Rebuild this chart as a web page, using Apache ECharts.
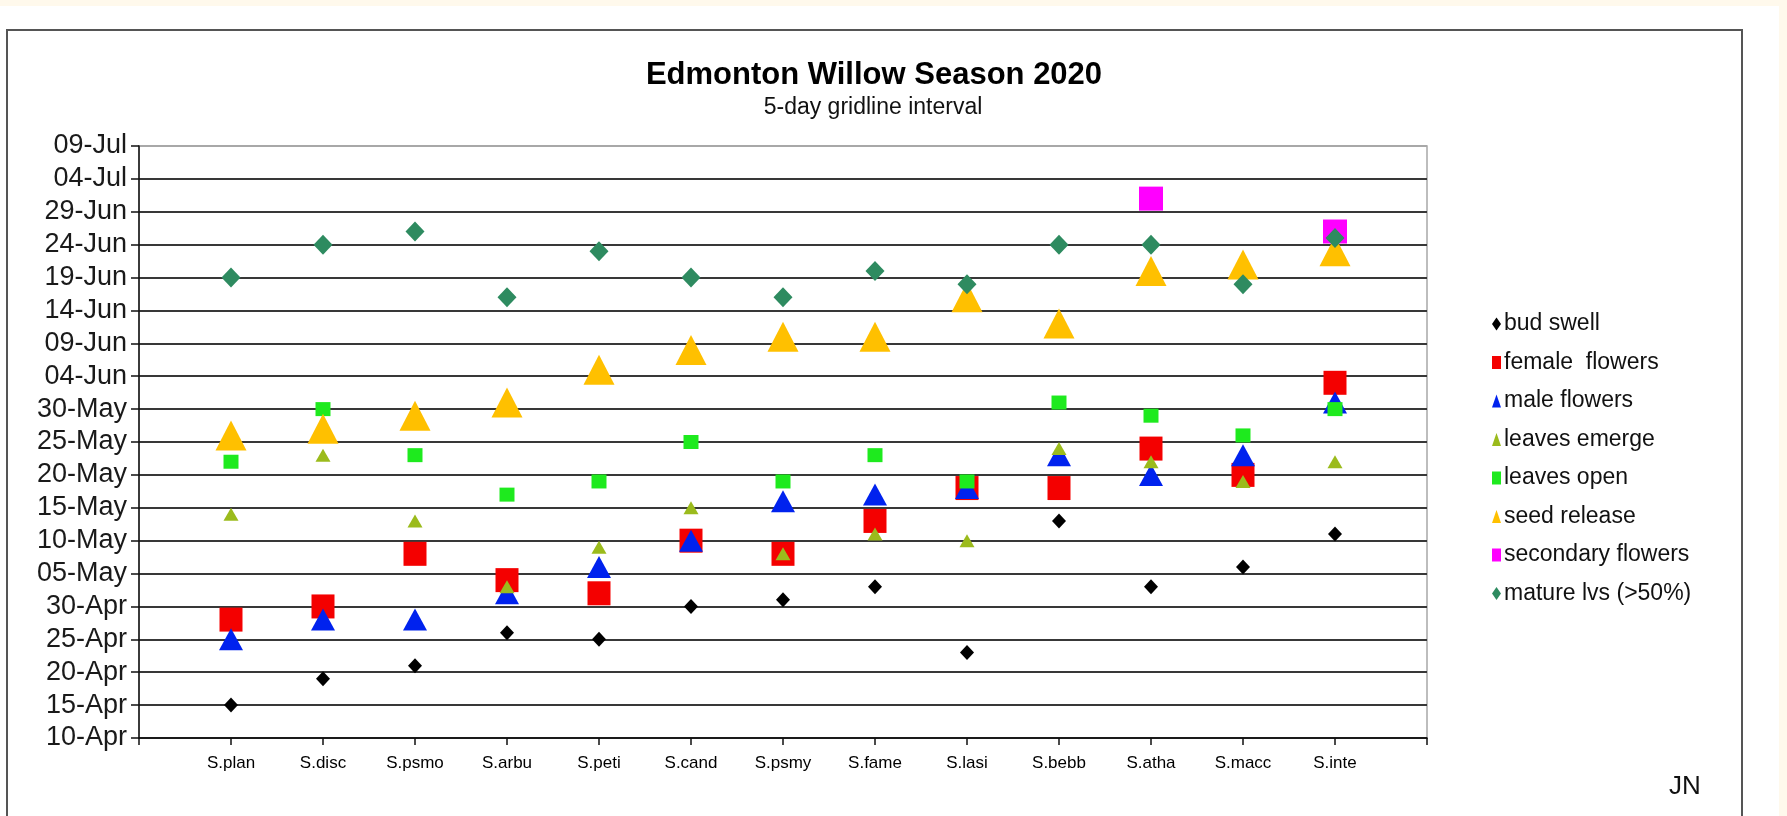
<!DOCTYPE html>
<html>
<head>
<meta charset="utf-8">
<script src="https://cdn.jsdelivr.net/npm/echarts@6/dist/echarts.min.js"></script>
<style>
  html, body { margin: 0; padding: 0; width: 1787px; height: 816px; overflow: hidden; background: #FFF9EC; }
  #white { position: absolute; left: 0; top: 6px; width: 1779px; height: 810px; background: #ffffff; }
  #frame { position: absolute; left: 6px; top: 29px; width: 1737px; height: 800px; border: 2px solid #555; box-sizing: border-box; }
  #chart { position: absolute; left: 0; top: 0; width: 1787px; height: 816px; }
</style>
</head>
<body>
<div id="white"></div>
<div id="frame"></div>
<div id="chart"></div>
<script>
// ---- data (dates, year 2020) ----
const categories = ['S.plan','S.disc','S.psmo','S.arbu','S.peti','S.cand','S.psmy','S.fame','S.lasi','S.bebb','S.atha','S.macc','S.inte'];
const yTickLabels = ['10-Apr','15-Apr','20-Apr','25-Apr','30-Apr','05-May','10-May','15-May','20-May','25-May','30-May','04-Jun','09-Jun','14-Jun','19-Jun','24-Jun','29-Jun','04-Jul','09-Jul'];
const seriesNames = ['bud swell','female  flowers','male flowers','leaves emerge','leaves open','seed release','secondary flowers','mature lvs (>50%)'];

const budSwell        = ['04-15','04-19','04-21','04-26','04-25','04-30','05-01','05-03','04-23','05-13','05-03','05-06','05-11'];
const femaleFlowers   = ['04-28','04-30','05-08','05-04','05-02','05-10','05-08','05-13','05-18','05-18','05-24','05-20','06-03'];
const maleFlowers     = ['04-25','04-28','04-28','05-02','05-06','05-10','05-16','05-17','05-18','05-23','05-20','05-23','05-31'];
const leavesEmerge    = ['05-14','05-23','05-13','05-03','05-09','05-15','05-08','05-11','05-10','05-24','05-22','05-19','05-22'];
const leavesOpen      = ['05-22','05-30','05-23','05-17','05-19','05-25','05-19','05-23','05-19','05-31','05-29','05-26','05-30'];
const seedRelease     = ['05-26','05-27','05-29','05-31','06-05','06-08','06-10','06-10','06-16','06-12','06-20','06-21','06-23'];
const secondaryFlowers= [null,null,null,null,null,null,null,null,null,null,'07-01',null,'06-26'];
const matureLvs       = ['06-19','06-24','06-26','06-16','06-23','06-19','06-16','06-20','06-18','06-24','06-24','06-18','06-25'];

// ---- helpers ----
const BASE = Date.UTC(2020, 3, 10); // 10-Apr-2020 = 0
function dayOffset(s) {
  const [m, d] = s.split('-').map(Number);
  return (Date.UTC(2020, m - 1, d) - BASE) / 86400000;
}
function toPoints(arr) {
  const out = [];
  arr.forEach((s, i) => { if (s) out.push([i + 1, dayOffset(s)]); });
  return out;
}

const styles = [
  { data: budSwell,         symbol: 'diamond',  size: [14, 15], color: '#000000' },
  { data: femaleFlowers,    symbol: 'rect',     size: [23, 24], color: '#F40000' },
  { data: maleFlowers,      symbol: 'triangle', size: [24, 22], color: '#0022EE' },
  { data: leavesEmerge,     symbol: 'triangle', size: [15, 13], color: '#9BBB1C' },
  { data: leavesOpen,       symbol: 'rect',     size: [15, 14], color: '#1EEA1E' },
  { data: seedRelease,      symbol: 'triangle', size: [31, 30], color: '#FFC000' },
  { data: secondaryFlowers, symbol: 'rect',     size: [24, 24], color: '#FF00FF' },
  { data: matureLvs,        symbol: 'diamond',  size: [19, 20], color: '#2E8B60' }
];

const series = styles.map((s, k) => ({
  name: seriesNames[k],
  type: 'scatter',
  symbol: s.symbol,
  symbolSize: s.size,
  itemStyle: { color: s.color, opacity: 1 },
  data: toPoints(s.data)
}));

const FONT = "'Liberation Sans', Arial, sans-serif";
const splitColors = yTickLabels.map((t, i) => i === yTickLabels.length - 1 ? '#a8a8a8' : '#383838');

const chart = echarts.init(document.getElementById('chart'), null, { renderer: 'canvas' });
chart.setOption({
  animation: false,
  backgroundColor: 'transparent',
  grid: {
    left: 139, top: 146, width: 1288, height: 592,
    show: true, backgroundColor: '#ffffff', borderColor: '#a8a8a8', borderWidth: 1.5
  },
  xAxis: {
    type: 'value', min: 0, max: categories.length + 1, interval: 1,
    axisLine: { show: true, lineStyle: { color: '#111', width: 1.5 } },
    axisTick: { show: true, length: 7, lineStyle: { color: '#111', width: 1.5 } },
    splitLine: { show: false },
    axisLabel: {
      margin: 17, fontSize: 17, color: '#000', fontFamily: FONT,
      formatter: v => categories[v - 1] || ''
    }
  },
  yAxis: {
    type: 'value', min: 0, max: 90, interval: 5,
    axisLine: { show: true, lineStyle: { color: '#111', width: 1.5 } },
    axisTick: { show: true, length: 8, lineStyle: { color: '#111', width: 1.5 } },
    splitLine: { show: true, lineStyle: { color: splitColors, width: 2 } },
    axisLabel: {
      margin: 12, fontSize: 27, color: '#1a1a1a', fontFamily: FONT,
      formatter: v => yTickLabels[Math.round(v / 5)]
    }
  },
  legend: {
    orient: 'vertical', left: 1487, top: 307,
    itemWidth: 9, itemHeight: 13, itemGap: 14.5,
    symbolKeepAspect: false,
    textStyle: { fontSize: 23, lineHeight: 24, color: '#111', fontFamily: FONT, padding: [0, 0, 0, -2] },
    data: seriesNames
  },
  graphic: [
    { type: 'text', x: 874, y: 75, style: { text: 'Edmonton Willow Season 2020', font: "bold 31px 'Liberation Sans', Arial, sans-serif", fill: '#000', align: 'center', verticalAlign: 'middle' } },
    { type: 'text', x: 873, y: 108, style: { text: '5-day gridline interval', font: "23px 'Liberation Sans', Arial, sans-serif", fill: '#111', align: 'center', verticalAlign: 'middle' } },
    { type: 'text', x: 1685, y: 787, style: { text: 'JN', font: "26px 'Liberation Sans', Arial, sans-serif", fill: '#111', align: 'center', verticalAlign: 'middle' } }
  ],
  series: series
});
</script>
</body>
</html>
